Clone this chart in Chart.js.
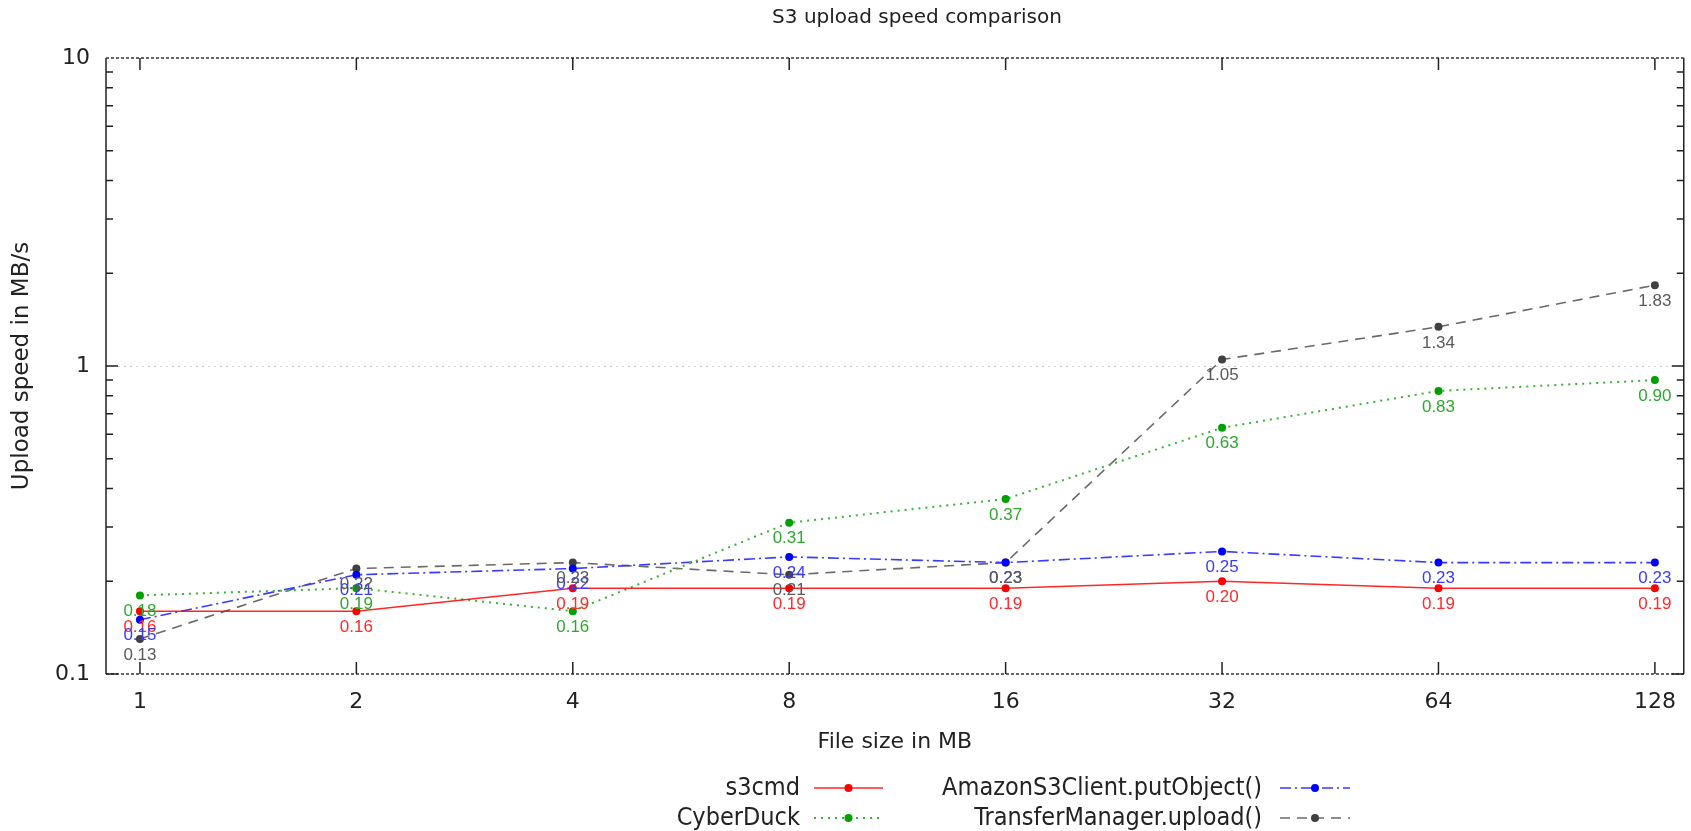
<!DOCTYPE html>
<html>
<head>
<meta charset="utf-8">
<script src="https://cdn.jsdelivr.net/npm/chart.js@4/dist/chart.umd.min.js"></script>
<style>
  html, body { margin: 0; padding: 0; background: #fff; }
  #wrap { width: 1691px; height: 831px; }
</style>
</head>
<body>
<div id="wrap"><canvas id="chart" width="1691" height="831"></canvas></div>
<script>
// data
const fileSizes = [1, 2, 4, 8, 16, 32, 64, 128]
const s3cmd = [0.16, 0.16, 0.19, 0.19, 0.19, 0.20, 0.19, 0.19]
const cyberDuck = [0.18, 0.19, 0.16, 0.31, 0.37, 0.63, 0.83, 0.90]
const putObject = [0.15, 0.21, 0.22, 0.24, 0.23, 0.25, 0.23, 0.23]
const transferManager = [0.13, 0.22, 0.23, 0.21, 0.23, 1.05, 1.34, 1.83]
const seriesNames = ['s3cmd', 'CyberDuck', 'AmazonS3Client.putObject()', 'TransferManager.upload()']
const yTickValues = [0.1, 1, 10]
const chartTitle = 'S3 upload speed comparison'

// styles
const lineColors = ['rgba(255,0,0,0.85)', '#33b533', '#3a3aff', '#6a6a6a']
const pointColors = ['#ff0000', '#00a000', '#0000ff', '#404040']
const labelColors = ['#ff2a2a', '#2fa82f', '#3a3aff', '#5a5a5a']
const dashes = [[], [2, 5], [11, 4, 2, 4], [10, 7]]
const lineWidths = [1.5, 2, 1.6, 1.6]

function toPoints(values){
  return values.map((v, i) => ({ x: fileSizes[i], y: v }))
}

const allSeries = [s3cmd, cyberDuck, putObject, transferManager]
const datasets = allSeries.map((vals, i) => ({
  label: seriesNames[i],
  data: toPoints(vals),
  borderColor: lineColors[i],
  borderWidth: lineWidths[i],
  borderDash: dashes[i],
  backgroundColor: pointColors[i],
  pointBackgroundColor: pointColors[i],
  pointBorderColor: pointColors[i],
  pointRadius: 4,
  pointBorderWidth: 0,
  tension: 0,
  fill: false
}))

// title sits a bit right of the canvas centre, like gnuplot put it
const titlePlugin = {
  id: 'gpTitle',
  afterDraw(chart){
    const ctx = chart.ctx
    ctx.save()
    ctx.font = '20px "DejaVu Sans", sans-serif'
    ctx.fillStyle = '#222'
    ctx.textAlign = 'center'
    ctx.textBaseline = 'middle'
    ctx.fillText(chartTitle, 917, 18)
    ctx.restore()
  }
}

//frame with gnuplot style inward ticks
const framePlugin = {
  id: 'frame',
  afterDatasetsDraw(chart){
    const ctx = chart.ctx
    const a = chart.chartArea
    const xs = chart.scales.x
    const ys = chart.scales.y
    ctx.save()
    ctx.strokeStyle = '#222'
    ctx.lineWidth = 1.5
    ctx.setLineDash([])
    ctx.beginPath()
    ctx.moveTo(a.left, a.top); ctx.lineTo(a.left, a.bottom)
    ctx.moveTo(a.right, a.top); ctx.lineTo(a.right, a.bottom)
    ctx.stroke()
    ctx.setLineDash([3, 2])
    ctx.strokeStyle = '#333'
    ctx.beginPath()
    ctx.moveTo(a.left, a.top); ctx.lineTo(a.right, a.top)
    ctx.moveTo(a.left, a.bottom); ctx.lineTo(a.right, a.bottom)
    ctx.stroke()
    ctx.setLineDash([])
    ctx.strokeStyle = '#222'
    ctx.beginPath()
    fileSizes.forEach(v => {
      const px = xs.getPixelForValue(v)
      ctx.moveTo(px, a.bottom); ctx.lineTo(px, a.bottom - 12)
      ctx.moveTo(px, a.top); ctx.lineTo(px, a.top + 12)
    })
    for (let e = -1; e <= 0; e++) {
      for (let k = 1; k <= 9; k++) {
        const py = ys.getPixelForValue(k * Math.pow(10, e))
        const len = k === 1 ? 12 : 7
        ctx.moveTo(a.left, py); ctx.lineTo(a.left + len, py)
        ctx.moveTo(a.right, py); ctx.lineTo(a.right - len, py)
      }
    }
    ctx.stroke()
    ctx.restore()
  }
}

// value labels under every point
const valueLabels = {
  id: 'valueLabels',
  afterDatasetsDraw(chart){
    const ctx = chart.ctx
    ctx.save()
    ctx.font = '17px "Liberation Sans", Arial, sans-serif'
    ctx.textAlign = 'center'
    ctx.textBaseline = 'middle'
    chart.data.datasets.forEach((ds, i) => {
      const meta = chart.getDatasetMeta(i)
      meta.data.forEach((pt, j) => {
        ctx.fillStyle = labelColors[i]
        ctx.fillText(ds.data[j].y.toFixed(2), pt.x, pt.y + 16)
      })
    })
    ctx.restore()
  }
}

// two column legend, text on the left of the sample
const sideLegend = {
  id: 'sideLegend',
  afterDraw(chart){
    const ctx = chart.ctx
    const cols = [{ textRight: 800, x0: 814, x1: 883 }, { textRight: 1262, x0: 1280, x1: 1350 }]
    const rows = [788, 818]
    ctx.save()
    try { ctx.fontStretch = 'condensed' } catch (e) {}
    ctx.font = '25px "DejaVu Sans Condensed", "DejaVu Sans", sans-serif'
    ctx.textAlign = 'right'
    ctx.textBaseline = 'middle'
    chart.data.datasets.forEach((ds, i) => {
      const c = cols[Math.floor(i / 2)]
      const y = rows[i % 2]
      ctx.fillStyle = '#222'
      ctx.fillText(ds.label, c.textRight, y)
      ctx.strokeStyle = lineColors[i]
      ctx.lineWidth = lineWidths[i]
      ctx.setLineDash(dashes[i])
      ctx.beginPath()
      ctx.moveTo(c.x0, y); ctx.lineTo(c.x1, y)
      ctx.stroke()
      ctx.setLineDash([])
      ctx.fillStyle = pointColors[i]
      ctx.beginPath()
      ctx.arc((c.x0 + c.x1) / 2, y, 4, 0, Math.PI * 2)
      ctx.fill()
    })
    ctx.restore()
  }
}

const tickFont = { family: '"DejaVu Sans", sans-serif', size: 22 }

new Chart(document.getElementById('chart'), {
  type: 'line',
  data: { datasets: datasets },
  plugins: [framePlugin, valueLabels, sideLegend, titlePlugin],
  options: {
    responsive: false,
    animation: false,
    events: [],
    layout: { padding: { left: 0, right: 6, top: 58, bottom: 67 } },
    plugins: {
      legend: { display: false },
      tooltip: { enabled: false },
      title: { display: false }
    },
    scales: {
      x: {
        type: 'logarithmic',
        min: 0.897,
        max: 140.4,
        afterBuildTicks: s => { s.ticks = fileSizes.map(v => ({ value: v })) },
        afterFit: s => { s.height = 90 },
        ticks: {
          autoSkip: false, maxRotation: 0, padding: 15,
          color: '#222', font: tickFont,
          callback: v => String(v)
        },
        grid: { display: false, drawTicks: false },
        border: { display: false },
        title: {
          display: true, text: 'File size in MB', color: '#222',
          font: { family: '"DejaVu Sans", sans-serif', size: 22 },
          padding: { top: 0, bottom: 9 }
        }
      },
      y: {
        type: 'logarithmic',
        min: 0.1,
        max: 10,
        afterBuildTicks: s => { s.ticks = yTickValues.map(v => ({ value: v })) },
        afterFit: s => { s.width = 106 },
        ticks: {
          padding: 16, color: '#222', font: tickFont,
          callback: v => String(v)
        },
        grid: {
          drawTicks: false,
          color: c => (c.tick && c.tick.value === 1) ? '#cfcfcf' : 'rgba(0,0,0,0)',
          lineWidth: 1
        },
        border: { display: false, dash: [2, 4] },
        title: {
          display: true, text: 'Upload speed in MB/s', color: '#222',
          font: { family: '"DejaVu Sans", sans-serif', size: 23 },
          padding: { top: 8, bottom: 0 }
        }
      }
    }
  }
})
</script>
</body>
</html>
